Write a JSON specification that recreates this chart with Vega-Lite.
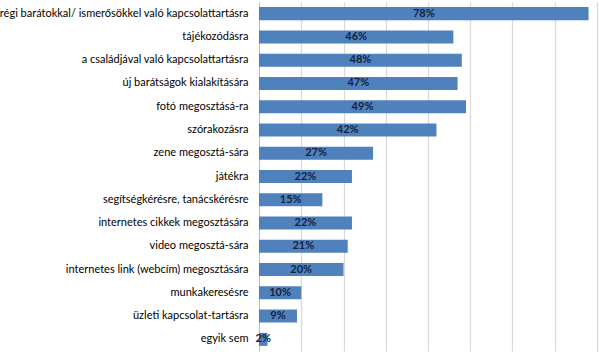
{
  "$schema": "https://vega.github.io/schema/vega-lite/v6.json",
  "width": 338,
  "height": 349,
  "autosize": {"type": "none"},
  "padding": {"left": 259, "top": 2, "right": 2, "bottom": 5},
  "background": "white",
  "config": {"view": {"stroke": null}},
  "data": {
    "values": [
      {"cat": "régi barátokkal/ ismerősökkel való kapcsolattartásra", "pct": 0.78},
      {"cat": "tájékozódásra", "pct": 0.46},
      {"cat": "a családjával való kapcsolattartásra", "pct": 0.48},
      {"cat": "új barátságok kialakítására", "pct": 0.47},
      {"cat": "fotó megosztásá-ra", "pct": 0.49},
      {"cat": "szórakozásra", "pct": 0.42},
      {"cat": "zene megosztá-sára", "pct": 0.27},
      {"cat": "játékra", "pct": 0.22},
      {"cat": "segítségkérésre, tanácskérésre", "pct": 0.15},
      {"cat": "internetes cikkek megosztására", "pct": 0.22},
      {"cat": "video megosztá-sára", "pct": 0.21},
      {"cat": "internetes link (webcím) megosztására", "pct": 0.20},
      {"cat": "munkakeresésre", "pct": 0.10},
      {"cat": "üzleti kapcsolat-tartásra", "pct": 0.09},
      {"cat": "egyik sem", "pct": 0.02}
    ]
  },
  "encoding": {
    "y": {
      "field": "cat", "type": "nominal", "sort": null, "title": null,
      "scale": {"paddingInner": 0.44, "paddingOuter": 0.22},
      "axis": {
        "domain": true, "domainColor": "#BFBFBF", "ticks": false,
        "labelPadding": 11, "labelFont": "Lato", "labelFontSize": 11,
        "labelColor": "#000000", "labelLimit": 300, "grid": false
      }
    }
  },
  "layer": [
    {
      "mark": {"type": "bar", "color": "#4F81BD"},
      "encoding": {
        "x": {
          "field": "pct", "type": "quantitative", "title": null,
          "scale": {"domain": [0, 0.8], "nice": false},
          "axis": {
            "values": [0, 0.1, 0.2, 0.3, 0.4, 0.5, 0.6, 0.7, 0.8],
            "labels": false, "ticks": false, "domain": false,
            "grid": true, "gridColor": "#D9D9D9", "gridWidth": 1.2
          }
        }
      }
    },
    {
      "mark": {"type": "text", "font": "Lato", "fontSize": 11, "fontWeight": "bold", "color": "#14213D", "align": "center", "baseline": "middle"},
      "encoding": {
        "x": {
          "field": "pct", "type": "quantitative",
          "scale": {"domain": [0, 1.6], "nice": false},
          "axis": null
        },
        "text": {"field": "pct", "type": "quantitative", "format": ".0%"}
      }
    }
  ],
  "resolve": {"scale": {"x": "independent"}}
}
